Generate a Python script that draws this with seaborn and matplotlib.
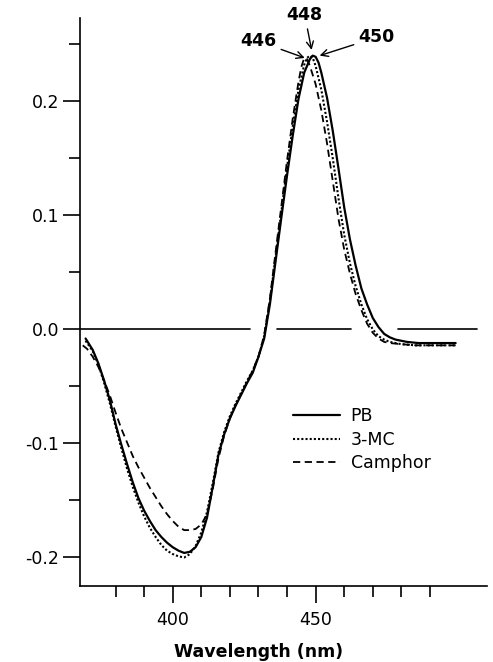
import numpy as np
import pandas as pd
import matplotlib
matplotlib.use("Agg")
import matplotlib.pyplot as plt
import seaborn as sns
from matplotlib.ticker import MultipleLocator, FixedLocator

# wavelength (nm) / CD signal
pb_wl = [369.5, 372, 374, 376, 378, 380, 382, 384, 386, 388, 390, 392, 394, 396, 398,
         400, 402, 404, 406, 408, 410, 412, 414, 416, 418, 420, 422, 424, 426, 428,
         430, 432, 434, 436, 438, 440, 442, 444, 446, 448, 449, 450, 451, 452, 454,
         456, 458, 460, 462, 464, 466, 468, 470, 472, 474, 476, 478, 482, 486, 490,
         494, 499]
pb_val = [-0.008, -0.018, -0.030, -0.045, -0.062, -0.083, -0.101, -0.118, -0.134, -0.148,
          -0.159, -0.168, -0.176, -0.182, -0.187, -0.191, -0.194, -0.196, -0.195, -0.191,
          -0.182, -0.165, -0.138, -0.110, -0.092, -0.078, -0.067, -0.057, -0.047, -0.038,
          -0.024, -0.008, 0.022, 0.060, 0.098, 0.135, 0.170, 0.202, 0.225, 0.237, 0.240,
          0.239, 0.234, 0.225, 0.203, 0.174, 0.141, 0.107, 0.079, 0.056, 0.036, 0.022,
          0.010, 0.002, -0.004, -0.007, -0.009, -0.011, -0.012, -0.012, -0.012, -0.012]

mc_wl = [369.5, 372, 374, 376, 378, 380, 382, 384, 386, 388, 390, 392, 394, 396, 398,
         400, 402, 404, 406, 408, 410, 412, 414, 416, 418, 420, 422, 424, 426, 428,
         430, 432, 434, 436, 438, 440, 442, 444, 446, 447, 448, 449, 450, 452, 454,
         456, 458, 460, 462, 464, 466, 468, 470, 472, 474, 476, 480, 485, 490, 495, 499]
mc_val = [-0.010, -0.019, -0.031, -0.047, -0.065, -0.085, -0.104, -0.122, -0.138, -0.152,
          -0.164, -0.174, -0.182, -0.189, -0.194, -0.197, -0.199, -0.200, -0.197, -0.190,
          -0.178, -0.160, -0.135, -0.108, -0.090, -0.076, -0.065, -0.055, -0.045, -0.036,
          -0.024, -0.006, 0.025, 0.064, 0.103, 0.142, 0.178, 0.210, 0.232, 0.238, 0.240,
          0.238, 0.231, 0.210, 0.182, 0.150, 0.115, 0.083, 0.058, 0.038, 0.022, 0.009,
          0.000, -0.006, -0.009, -0.011, -0.013, -0.014, -0.014, -0.014, -0.014]

cam_wl = [368.5, 370, 372, 374, 376, 378, 380, 382, 384, 386, 388, 390, 392, 394, 396,
          398, 400, 402, 404, 406, 408, 410, 412, 414, 416, 418, 420, 422, 424, 426,
          428, 430, 432, 434, 436, 438, 440, 442, 444, 445, 446, 447, 448, 450, 452,
          454, 456, 458, 460, 462, 464, 466, 468, 470, 472, 474, 476, 480, 485, 490,
          495, 499]
cam_val = [-0.014, -0.017, -0.024, -0.033, -0.045, -0.058, -0.073, -0.087, -0.099, -0.111,
           -0.121, -0.130, -0.139, -0.147, -0.155, -0.162, -0.168, -0.173, -0.176, -0.176,
           -0.175, -0.171, -0.162, -0.140, -0.113, -0.093, -0.078, -0.066, -0.056, -0.046,
           -0.036, -0.024, -0.005, 0.027, 0.068, 0.108, 0.148, 0.185, 0.217, 0.230, 0.238,
           0.237, 0.231, 0.215, 0.192, 0.163, 0.130, 0.097, 0.070, 0.049, 0.031, 0.017,
           0.005, -0.003, -0.008, -0.011, -0.012, -0.013, -0.014, -0.014, -0.014, -0.014]

# broken zero baseline (gaps where the traces cross it)
base_wl = [367.5, 427, np.nan, 436.5, 462.5, np.nan, 479, 506.5]
base_val = [0, 0, np.nan, 0, 0, np.nan, 0, 0]

x_major = [400, 450]
x_minor = [380, 390, 410, 420, 430, 440, 460, 470, 480, 490]
peak_labels = ["446", "448", "450"]

sns.set_style("ticks")
plt.rcParams["font.family"] = ["DejaVu Sans"]
plt.rcParams["text.color"] = "black"

fig = plt.figure(figsize=(4.93, 6.62), dpi=100)
ax = fig.add_axes([0.162, 0.1148, 0.826, 0.858])

ax.plot(base_wl, base_val, color="black", lw=1.2)

sns.lineplot(x=pb_wl, y=pb_val, ax=ax, color="black", lw=1.6, label="PB")
sns.lineplot(x=mc_wl, y=mc_val, ax=ax, color="black", lw=1.5, label="3-MC")
ax.lines[-1].set_linestyle((0, (1, 1)))
sns.lineplot(x=cam_wl, y=cam_val, ax=ax, color="black", lw=1.3, label="Camphor")
ax.lines[-1].set_linestyle((0, (4, 2.5)))

ax.set_xlim(367.5, 510)
ax.set_ylim(-0.225, 0.273)
ax.xaxis.set_major_locator(FixedLocator(x_major))
ax.xaxis.set_minor_locator(FixedLocator(x_minor))
ax.yaxis.set_major_locator(MultipleLocator(0.1))
ax.yaxis.set_minor_locator(MultipleLocator(0.05))
ax.yaxis.set_major_formatter(matplotlib.ticker.FormatStrFormatter("%.1f"))
ax.tick_params(axis="both", which="major", length=12, width=1.2, labelsize=12.5,
               color="black", labelcolor="black")
ax.tick_params(axis="both", which="minor", length=8, width=1.2, color="black")
ax.tick_params(axis="x", which="major", pad=6)
ax.tick_params(axis="y", which="major", pad=3)
sns.despine(ax=ax)
for s in ["left", "bottom"]:
    ax.spines[s].set_linewidth(1.2)
    ax.spines[s].set_color("black")

ax.set_xlabel("Wavelength (nm)", fontsize=12.5, fontweight="bold", color="black")
ax.set_ylabel("")
ax.xaxis.set_label_coords(0.44, -0.1)

ax.legend(loc="upper left", bbox_to_anchor=(0.486, 0.342), frameon=False, fontsize=12.5,
          handlelength=2.7, handletextpad=0.6, labelspacing=0.3, labelcolor="black")

arrow = dict(arrowstyle="->", color="black", lw=1.0, shrinkA=1, shrinkB=0)
ax.annotate(peak_labels[0], xy=(446.2, 0.238), xytext=(430, 0.2526), ha="center", va="center",
            fontsize=12.5, fontweight="bold", arrowprops=arrow, annotation_clip=False)
ax.annotate(peak_labels[1], xy=(448.6, 0.245), xytext=(446.2, 0.2754), ha="center", va="center",
            fontsize=12.5, fontweight="bold", arrowprops=arrow, annotation_clip=False)
ax.annotate(peak_labels[2], xy=(451.4, 0.240), xytext=(471.3, 0.256), ha="center", va="center",
            fontsize=12.5, fontweight="bold", arrowprops=arrow, annotation_clip=False)

fig.savefig("out.png", dpi=100)
